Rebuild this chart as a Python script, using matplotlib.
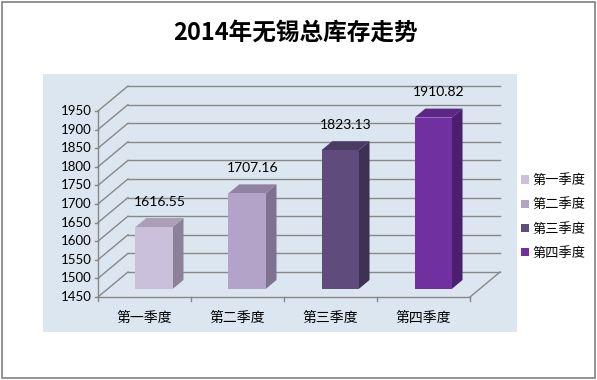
import matplotlib.pyplot as plt
from matplotlib.patches import Polygon, Rectangle, Patch

plt.rcParams['font.family'] = ['Noto Sans CJK SC', 'DejaVu Sans']

# data
categories = ["第一季度", "第二季度", "第三季度", "第四季度"]
values = [1616.55, 1707.16, 1823.13, 1910.82]
yticks = list(range(1450, 2000, 50))
title = "2014年无锡总库存走势"

front_colors = ["#cbc0dc", "#b4a3c9", "#5f4b7c", "#7030a0"]
top_colors = ["#a99fb6", "#9083a1", "#4a3b62", "#5b2684"]
side_colors = ["#8b8199", "#7f7190", "#3f3153", "#4c1f6e"]

# pseudo-3d geometry (depth offset in data units)
dx, dy = 0.3226, 67.2
d0, d1 = 0.32, 0.68
bw = 0.4
base = 1450


def proj(c, v, d):
    return (c + d * dx, v + d * dy)


fig = plt.figure(figsize=(5.97, 3.80), dpi=100)
ax = fig.add_axes([43 / 597, 48 / 380, 474 / 597, 258 / 380])
ax.set_xlim(-1.091, 4.005)
ax.set_ylim(1355.9, 2049.5)
ax.set_facecolor("#dce6f1")
ax.set_xticks([])
ax.set_yticks([])
for s in ax.spines.values():
    s.set_visible(False)

grid_c = "#888888"
num_font = ["Lato", "DejaVu Sans"]
# back wall gridlines + side wall diagonals
for v in yticks:
    x0, y0 = proj(-0.5, v, 1)
    x1, y1 = proj(3.5, v, 1)
    ax.plot([x0, x1], [y0, y1], color=grid_c, lw=1, zorder=1)
    ax.plot([-0.5, x0], [v, y0], color=grid_c, lw=1, zorder=1)
    ax.plot([-0.53, -0.5], [v, v], color=grid_c, lw=1, zorder=1)
    ax.text(-0.565, v, str(v), ha="right", va="center", fontsize=9.5,
            color="#000000", family=num_font)

# floor
ax.plot([-0.5, 3.5], [base, base], color=grid_c, lw=1, zorder=1)
xr, yr = proj(3.5, base, 1)
ax.plot([3.5, xr], [base, yr], color=grid_c, lw=1, zorder=1)
ax.plot([-0.5, -0.5], [base, yticks[-1]], color=grid_c, lw=1, zorder=1)
for b in [-0.5, 0.5, 1.5, 2.5, 3.5]:
    ax.plot([b, b], [base, base - 12], color=grid_c, lw=1, zorder=1)

# bars
for i, v in enumerate(values):
    l, r = i - bw / 2, i + bw / 2
    front = [proj(l, base, d0), proj(r, base, d0), proj(r, v, d0), proj(l, v, d0)]
    side = [proj(r, base, d0), proj(r, base, d1), proj(r, v, d1), proj(r, v, d0)]
    top = [proj(l, v, d0), proj(r, v, d0), proj(r, v, d1), proj(l, v, d1)]
    ax.add_patch(Polygon(side, closed=True, fc=side_colors[i], ec="none", zorder=2))
    ax.add_patch(Polygon(top, closed=True, fc=top_colors[i], ec="none", zorder=2))
    ax.add_patch(Polygon(front, closed=True, fc=front_colors[i], ec="none", zorder=3))
    tx, ty = proj(i, v, 0.5)
    ax.annotate(f"{v:.2f}", (tx, ty), xytext=(0, 15), textcoords="offset points",
                ha="center", va="center", fontsize=10, family=num_font)
    ax.annotate(categories[i], (i, base), xytext=(0, -15), textcoords="offset points",
                ha="center", va="center", fontsize=10)

# legend
handles = [Patch(fc=c, ec="none") for c in front_colors]
fig.legend(handles, categories, loc="center left", bbox_to_anchor=(516 / 597, 1 - 217 / 380),
           frameon=False, fontsize=9.5, handlelength=0.6, handleheight=0.6,
           handletextpad=0.25, labelspacing=0.85, borderaxespad=0)

fig.text(296 / 597, 1 - 33 / 380, title, ha="center", va="center",
         fontsize=17, fontweight="bold")

fig.patches.append(Rectangle((0.003, 0.004), 0.993, 0.992, transform=fig.transFigure,
                             fill=False, ec="#808080", lw=1.2))

fig.savefig("out.png", dpi=100)
